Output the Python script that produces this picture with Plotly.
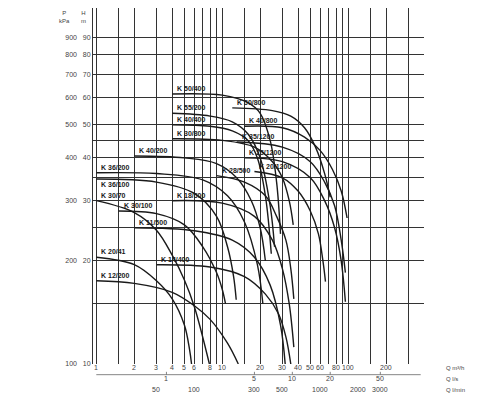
import plotly.graph_objects as go
import math

# pump curves: Q in m3/h, H in m
pumps = {
    "K 50/400": ([4, 10, 16, 20, 24, 27, 29], [61.5, 61, 58, 54, 45, 34, 24]),
    "K 55/200": ([4, 8, 12, 16, 20, 24, 26], [54, 53, 51, 47, 40, 29, 22]),
    "K 40/400": ([4, 8, 12, 16, 19, 22, 24.5], [50, 49.5, 48, 45, 40, 31, 21]),
    "K 30/800": ([4, 10, 18, 25, 30, 34, 36.6], [45.5, 45, 43, 39, 35, 30, 25.5]),
    "K 50/800": ([12, 25, 35, 45, 55, 65, 72], [56, 55, 53, 49, 43, 36, 30.7]),
    "K 40/800": ([15, 30, 45, 60, 75, 88, 98], [49.5, 49, 46, 42, 37, 32, 26.7]),
    "K 35/1200": ([13, 30, 50, 65, 78, 88, 95], [44.5, 43, 39, 34, 29, 23, 18.5]),
    "K 25/1200": ([15, 30, 50, 65, 78, 88, 95], [40, 39, 35, 30, 25, 20, 15.2]),
    "K 20/1200": ([18, 30, 40, 50, 58, 63, 66], [36.5, 35, 32, 28, 24, 20, 17.4]),
    "K 40/200": ([2, 5, 9, 13, 17, 20, 22], [40.5, 40, 38.5, 35, 30, 25, 20]),
    "K 36/200": ([1, 3, 7, 11, 15, 19, 21], [36.2, 36, 34.5, 31, 26, 19.5, 15]),
    "K 36/100": ([1, 3, 6, 9, 11, 12.3, 12.9], [34.7, 34, 31.5, 27, 22, 18, 15.4]),
    "K 28/500": ([9, 15, 22, 27, 32, 35, 37], [35.5, 34, 31, 27, 23, 19, 15.5]),
    "K 18/500": ([4, 10, 18, 25, 30, 34, 37], [30, 29.5, 27, 23, 19, 15, 11.2]),
    "K 30/70": ([1, 2, 3, 4, 5, 6, 7.9], [30, 27.7, 24.6, 20.8, 17.6, 14.7, 10]),
    "K 30/100": ([1.5, 3, 5, 7, 9, 10, 10.6], [28, 27.5, 25.5, 22, 18.5, 16.5, 15]),
    "K 11/500": ([2, 6, 12, 18, 24, 29, 31.6], [25, 24.5, 23, 20.5, 17, 13, 10]),
    "K 20/41": ([1, 2, 3, 4, 5, 5.5, 5.7], [20.5, 19.5, 17.5, 15.5, 13, 11, 10]),
    "K 14/400": ([3, 8, 15, 22, 28, 32, 35], [19.5, 19.2, 18, 16, 14, 12, 10]),
    "K 12/200": ([1, 2, 4, 6, 8, 11, 13.4], [17.5, 17.2, 16.2, 14.8, 13.5, 11.5, 10]),
}
label_pos = {"K 36/100": "below"}

x_grid = [1, 1.5, 2, 3, 4, 5, 6, 7, 8, 9, 10, 15, 20, 30, 40, 50, 60, 70, 80, 90, 100, 150, 200, 300, 400]
x_labels = [1, 2, 3, 4, 5, 6, 8, 10, 20, 30, 40, 50, 60, 80, 100, 200]
y_grid = [10, 15, 20, 25, 30, 35, 40, 45, 50, 60, 70, 80, 90]
y_labels = {10: "10", 20: "20", 30: "30", 40: "40", 50: "50", 60: "60", 70: "70", 80: "80", 90: "90"}
kpa_ticks = [100, 200, 300, 400, 500, 600, 700, 800, 900]
ls_ticks = [1, 5, 10, 20, 50]
lmin_ticks = [50, 100, 300, 500, 1000, 2000, 3000]

ink = "#1a1a1a"
tick_font = dict(size=7, color="#444", family="Liberation Sans")
fig = go.Figure()
for name, (q, h) in pumps.items():
    fig.add_trace(go.Scatter(x=q, y=h, mode="lines", line=dict(color=ink, width=1.4, shape="spline"),
                             showlegend=False, hoverinfo="skip"))
    fig.add_annotation(x=math.log10(q[0]), y=math.log10(h[0]), text="<b>" + name + "</b>", showarrow=False,
                       xanchor="left", yanchor="top" if label_pos.get(name) == "below" else "bottom",
                       font=dict(size=7, color=ink, family="Liberation Sans"), xshift=3)

# bottom flow scales: m3/h, l/s, l/min
for v in x_labels:
    fig.add_annotation(x=math.log10(v), xref="x", yref="paper", y=-0.011, text=str(v), showarrow=False,
                       yanchor="middle", font=tick_font)
for v in ls_ticks:
    fig.add_annotation(x=math.log10(v * 3.6), xref="x", yref="paper", y=-0.042, text=str(v), showarrow=False,
                       yanchor="middle", font=tick_font)
    fig.add_shape(type="line", x0=v * 3.6, x1=v * 3.6, xref="x", yref="paper", y0=-0.03, y1=-0.022,
                  line=dict(color="#666", width=0.8))
for v in lmin_ticks:
    fig.add_annotation(x=math.log10(v * 0.06), xref="x", yref="paper", y=-0.072, text=str(v), showarrow=False,
                       yanchor="middle", font=tick_font)

x_rng = [math.log10(0.94), math.log10(400)]
y_rng = [1, 2.04]
fig.update_layout(
    width=500, height=400, plot_bgcolor="white", paper_bgcolor="white",
    margin=dict(l=85, r=84, t=0, b=44),
    font=dict(family="Liberation Sans", size=7, color="#444"),
    xaxis=dict(type="log", range=x_rng, tickvals=x_grid, showticklabels=False,
               showgrid=True, gridcolor="#333", gridwidth=1, ticks="", zeroline=False),
    yaxis=dict(type="log", range=y_rng, tickvals=y_grid, ticktext=[y_labels.get(v, "") for v in y_grid],
               showgrid=True, gridcolor="#333", gridwidth=1, ticks="", showline=True, linecolor="#333",
               tickfont=tick_font),
    yaxis2=dict(type="log", overlaying="y", anchor="free", position=0, side="left",
                range=[r + 1 for r in y_rng], tickvals=kpa_ticks, showgrid=False,
                ticklabelstandoff=16, ticks="", showline=False, tickfont=tick_font),
)
fig.add_trace(go.Scatter(x=[1], y=[100], yaxis="y2", mode="none", showlegend=False, hoverinfo="skip"))
fig.add_shape(type="line", xref="paper", yref="paper", x0=0.01, x1=0.99, y0=-0.03, y1=-0.03,
              line=dict(color="#666", width=0.8))
for yy, t in [(-0.011, "Q m³/h"), (-0.042, "Q l/s"), (-0.072, "Q l/min")]:
    fig.add_annotation(xref="paper", yref="paper", x=1.0, y=yy, text=t, showarrow=False,
                       xanchor="left", yanchor="middle", font=dict(size=6, color="#444"), xshift=20)
fig.add_annotation(xref="paper", yref="paper", x=-0.03, y=1.0, text="H<br>m", showarrow=False,
                   xanchor="center", yanchor="top", font=dict(size=6))
fig.add_annotation(xref="paper", yref="paper", x=-0.085, y=1.0, text="P<br>kPa", showarrow=False,
                   xanchor="center", yanchor="top", font=dict(size=6))
fig.write_html("out.html")
